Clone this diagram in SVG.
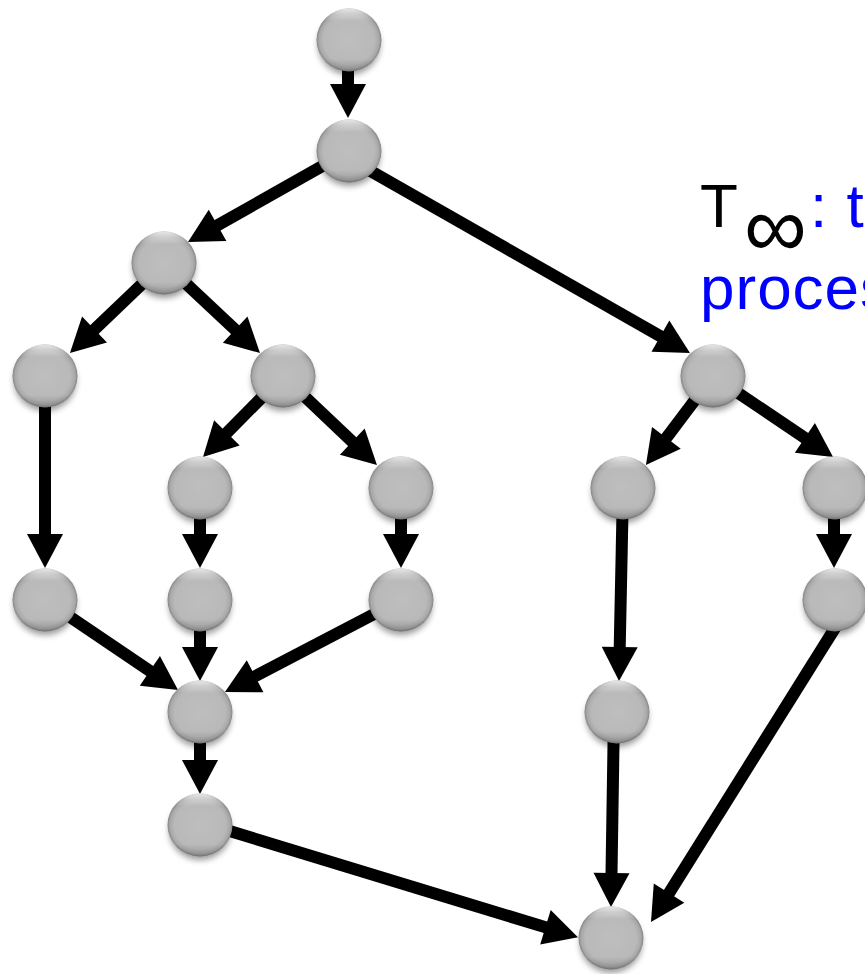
<svg xmlns="http://www.w3.org/2000/svg" xmlns:xlink="http://www.w3.org/1999/xlink" width="865" height="974" viewBox="0 0 865 974">
<style>
.edge{stroke:#000;stroke-width:12;fill:none;marker-end:url(#ah)}
.lbl{font-family:"Liberation Sans",Arial,sans-serif;font-size:62px;letter-spacing:1px}
.blue{fill:#0000ff}
.blk{fill:#000}
</style>
<defs>
<marker id="ah" markerUnits="userSpaceOnUse" markerWidth="36" markerHeight="38" viewBox="-1 -19 36 38" refX="0" refY="0" orient="auto" overflow="visible">
<path d="M-1,-18 L33,0 L-1,18 z" fill="#000"/>
</marker>
<radialGradient id="rg" cx="0.5" cy="0.5" r="0.5">
<stop offset="0" stop-color="#bebebe"/>
<stop offset="0.78" stop-color="#b9b9b9"/>
<stop offset="0.92" stop-color="#a9a9a9"/>
<stop offset="1" stop-color="#868686"/>
</radialGradient>
<linearGradient id="lg" x1="0" y1="0" x2="0" y2="1">
<stop offset="0" stop-color="#fff" stop-opacity="0.8"/>
<stop offset="0.1" stop-color="#fff" stop-opacity="0.3"/>
<stop offset="0.2" stop-color="#fff" stop-opacity="0"/>
<stop offset="0.8" stop-color="#000" stop-opacity="0"/>
<stop offset="1" stop-color="#000" stop-opacity="0.18"/>
</linearGradient>
<filter id="blur" x="-30%" y="-30%" width="160%" height="160%">
<feGaussianBlur stdDeviation="3"/>
</filter>
<g id="ball">
<ellipse cx="0" cy="5" rx="31" ry="30" fill="#000" opacity="0.4" filter="url(#blur)"/>
<ellipse rx="32.5" ry="31.5" fill="url(#rg)"/>
<ellipse rx="32.5" ry="31.5" fill="url(#lg)"/>
</g>
</defs>
<g id="connectors">
<line class="edge" x1="348" y1="41" x2="348" y2="85"/>
<line class="edge" x1="349" y1="151" x2="216.7" y2="225.8"/>
<line class="edge" x1="360" y1="165" x2="661.3" y2="336.7"/>
<line class="edge" x1="164" y1="263" x2="93.8" y2="330.2"/>
<line class="edge" x1="164" y1="263" x2="235.9" y2="330.4"/>
<line class="edge" x1="45" y1="376" x2="45" y2="535"/>
<line class="edge" x1="283" y1="376" x2="226.2" y2="433.5"/>
<line class="edge" x1="283" y1="376" x2="353" y2="442.3"/>
<line class="edge" x1="200" y1="488" x2="200" y2="535"/>
<line class="edge" x1="401" y1="488" x2="401" y2="535"/>
<line class="edge" x1="45" y1="600" x2="150.7" y2="671.5"/>
<line class="edge" x1="200" y1="600" x2="200" y2="648"/>
<line class="edge" x1="401" y1="600" x2="254.2" y2="676.7"/>
<line class="edge" x1="200" y1="712" x2="200" y2="761"/>
<line class="edge" x1="200" y1="822" x2="546.4" y2="927.6"/>
<line class="edge" x1="713" y1="376" x2="665.8" y2="438.6"/>
<line class="edge" x1="713" y1="376" x2="805.7" y2="438.5"/>
<line class="edge" x1="834" y1="488" x2="834" y2="535"/>
<line class="edge" x1="623" y1="488" x2="619.7" y2="648"/>
<line class="edge" x1="614" y1="712" x2="611.5" y2="874"/>
<line class="edge" x1="840" y1="620" x2="668.5" y2="894"/>
</g>
<g id="n1"><use xlink:href="#ball" x="349" y="40"/></g>
<g id="n2"><use xlink:href="#ball" x="349" y="151"/></g>
<g id="n3"><use xlink:href="#ball" x="164" y="263"/></g>
<g id="n4"><use xlink:href="#ball" x="45" y="376"/></g>
<g id="n5"><use xlink:href="#ball" x="283" y="376"/></g>
<g id="n6"><use xlink:href="#ball" x="200" y="488"/></g>
<g id="n7"><use xlink:href="#ball" x="401" y="488"/></g>
<g id="n8"><use xlink:href="#ball" x="45" y="600"/></g>
<g id="n9"><use xlink:href="#ball" x="200" y="600"/></g>
<g id="n10"><use xlink:href="#ball" x="401" y="600"/></g>
<g id="n11"><use xlink:href="#ball" x="200" y="712"/></g>
<g id="n12"><use xlink:href="#ball" x="200" y="825"/></g>
<g id="n13"><use xlink:href="#ball" x="713" y="376"/></g>
<g id="n14"><use xlink:href="#ball" x="623" y="488"/></g>
<g id="n15"><use xlink:href="#ball" x="835" y="488"/></g>
<g id="n16"><use xlink:href="#ball" x="835" y="600"/></g>
<g id="n17"><use xlink:href="#ball" x="617" y="712"/></g>
<g id="n18"><use xlink:href="#ball" x="611" y="938"/></g>
<g id="label">
<text class="lbl"><tspan class="blk" x="700" y="227">T</tspan><tspan class="blk" x="744" y="257" style="font-size:88px;letter-spacing:0">∞</tspan><tspan class="blue" x="810" y="227">: t</tspan></text>
<text class="lbl blue" x="700" y="309">proces</text>
</g>
</svg>
